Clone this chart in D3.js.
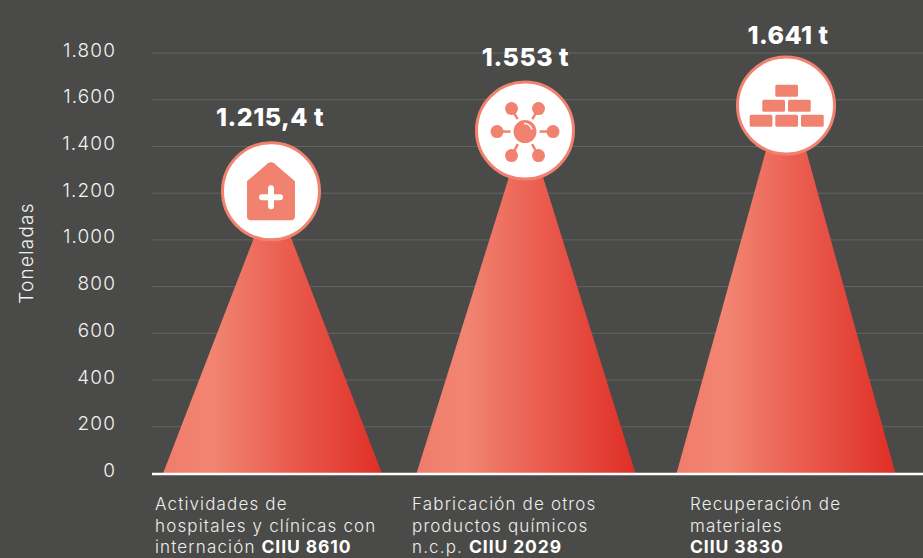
<!DOCTYPE html>
<html><head><meta charset="utf-8">
<script src="https://cdn.jsdelivr.net/npm/d3@7"></script>
<style>
html,body{margin:0;padding:0;background:#4a4a48;}
svg{display:block;font-family:Inter,"Open Sans",sans-serif;}
</style></head><body><svg id="c" width="923" height="558"></svg>
<script>
const categories=["8610","2029","3830"];
const values=[1215.4,1553,1641];
const valueLabels=["1.215,4 t","1.553 t","1.641 t"];
const peaks=[1215,1503,1693];
const iconLevels=[1208,1468,1575];
const labelLevels=[1528,1784,1879];
const nameLines=[
 [["Actividades de"],["hospitales y clínicas con"],["internación ","CIIU 8610"]],
 [["Fabricación de otros"],["productos químicos"],["n.c.p. ","CIIU 2029"]],
 [["Recuperación de"],["materiales"],["","CIIU 3830"]]
];
const ticks=[0,200,400,600,800,1000,1200,1400,1600,1800];
const tickLabels=["0","200","400","600","800","1.000","1.200","1.400","1.600","1.800"];
const axisTitle="Toneladas";

const svg=d3.select("#c");
const y=d3.scaleLinear().domain([0,1800]).range([473.5,53]);
const xBand=d3.scaleOrdinal().domain(categories).range([272.5,526,786]);
const iconX=d3.scaleOrdinal().domain(categories).range([271,525,786]);
const labelX=d3.scaleOrdinal().domain(categories).range([270,525.5,788]);
const textX=d3.scaleOrdinal().domain(categories).range([155,412,690]);
const halfBase=109.5, salmon="#f28270";

const defs=svg.append("defs");
const g=defs.append("linearGradient").attr("id","grad").attr("x1",0).attr("x2",1).attr("y1",0).attr("y2",0);
[[0,"#f07c6b"],[.22,"#f28572"],[.6,"#e9594c"],[1,"#df2f26"]].forEach(s=>g.append("stop").attr("offset",s[0]).attr("stop-color",s[1]));

// grid
svg.append("g").selectAll("line").data(ticks.slice(1)).join("line")
 .attr("x1",152).attr("x2",923).attr("y1",d=>y(d)).attr("y2",d=>y(d))
 .attr("stroke","#646462").attr("stroke-width",1);

// y axis labels
const axis=d3.axisLeft(y).tickValues(ticks).tickSize(0).tickPadding(0).tickFormat((d,i)=>tickLabels[i]);
const ga=svg.append("g").attr("transform","translate(116,-3)").call(axis);
ga.select(".domain").remove();
ga.selectAll("text").attr("fill","#f2f2f2").attr("font-size",19).attr("font-weight",300).attr("font-family","Inter").attr("letter-spacing",1.1);

svg.append("text").attr("transform","translate(33,253) rotate(-90)").attr("text-anchor","middle")
 .attr("fill","#f2f2f2").attr("font-size",19).attr("font-weight",300).attr("letter-spacing",1.2).text(axisTitle);

// triangles
svg.append("g").selectAll("path").data(categories).join("path")
 .attr("d",(c,i)=>{const x=xBand(c);return d3.line()([[x-halfBase,y(0)],[x,y(peaks[i])],[x+halfBase,y(0)]])+"Z";})
 .attr("fill","url(#grad)");

// baseline
svg.append("line").attr("x1",152).attr("x2",923).attr("y1",y(0)+0.5).attr("y2",y(0)+0.5).attr("stroke","#fff").attr("stroke-width",2.5);

// circles
const icons=svg.append("g").selectAll("g").data(categories).join("g")
 .attr("transform",(c,i)=>`translate(${iconX(c)},${y(iconLevels[i])})`);
icons.append("circle").attr("r",48.5).attr("fill","#fff").attr("stroke",salmon).attr("stroke-width",3);

// house icon
const house=icons.filter((d,i)=>i==0);
house.append("path").attr("d","M-24,-10 L-3,-28 Q0,-30 3,-28 L24,-10 L24,25 Q24,29 20,29 L-20,29 Q-24,29 -24,25 Z").attr("fill",salmon);
house.append("path").attr("d","M-9,6H9M0,-3V15").attr("stroke","#fff").attr("stroke-width",6).attr("stroke-linecap","round");

// molecule icon
const mol=icons.filter((d,i)=>i==1).append("g").attr("transform","translate(0,1)");
mol.append("circle").attr("r",11.5).attr("fill",salmon);
mol.append("path").attr("d","M-1,-8 Q5,-8 7,-2").attr("fill","none").attr("stroke","#fff").attr("stroke-width",1.6);
[[-28,0],[28,0],[-13.5,-23],[13.5,-23],[-13.5,24],[13.5,24]].forEach(p=>{
  const a=Math.atan2(p[1],p[0]);
  mol.append("line").attr("x1",Math.cos(a)*14.5).attr("y1",Math.sin(a)*14.5).attr("x2",p[0]).attr("y2",p[1]).attr("stroke",salmon).attr("stroke-width",2.5);
  mol.append("circle").attr("cx",p[0]).attr("cy",p[1]).attr("r",6.5).attr("fill",salmon);
});

// bricks icon
const bricks=icons.filter((d,i)=>i==2);
[[-10.7,-20.7],[-23.7,-5.7],[2,-5.7],[-36.3,9.3],[-10.7,9.3],[15,9.3]].forEach(b=>
 bricks.append("rect").attr("x",b[0]).attr("y",b[1]).attr("width",22.7).attr("height",12).attr("rx",1.5).attr("fill",salmon));

// value labels
svg.append("g").selectAll("text").data(categories).join("text")
 .attr("x",c=>labelX(c)).attr("y",(c,i)=>y(labelLevels[i])+9)
 .attr("text-anchor","middle").attr("fill","#fff").attr("font-size",25).attr("font-weight",800).attr("letter-spacing",0.5)
 .text((c,i)=>valueLabels[i]);

// category labels
categories.forEach((c,i)=>{
  nameLines[i].forEach((ln,j)=>{
    const t=svg.append("text").attr("x",textX(c)).attr("y",510+j*21.7).attr("fill","#eeeeee").attr("font-size",17).attr("font-weight",300).attr("letter-spacing",1.15);
    if(ln[0]) t.append("tspan").text(ln[0]);
    if(ln[1]) t.append("tspan").attr("font-weight",700).attr("font-size",17.5).attr("fill","#fff").attr("letter-spacing",0.9).text(ln[1]);
  });
});
</script></body></html>
